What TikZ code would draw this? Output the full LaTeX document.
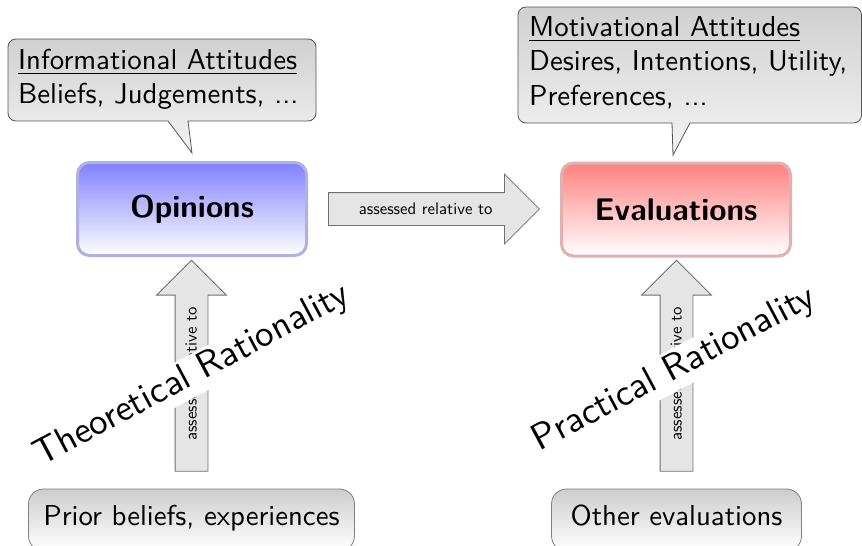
\documentclass[tikz,border=0pt]{standalone}
\usepackage{fontspec}
\setsansfont{lmsans10-regular.otf}[BoldFont=lmsans10-bold.otf]
\usetikzlibrary{shapes.arrows,calc}
\definecolor{opTop}{RGB}{128,128,255}
\definecolor{opBorder}{RGB}{176,176,226}
\definecolor{evTop}{RGB}{255,128,128}
\definecolor{evBorder}{RGB}{226,176,176}
\definecolor{callBorder}{RGB}{85,85,85}
\definecolor{callTop}{RGB}{208,208,208}
\definecolor{callBottom}{RGB}{244,244,244}
\definecolor{srcBorder}{RGB}{128,128,128}
\definecolor{srcTop}{RGB}{205,205,205}
\definecolor{arrFill}{RGB}{229,229,229}
\definecolor{arrBorder}{RGB}{112,112,112}
\newcommand\ulx[1]{\leavevmode\setbox0=\hbox{#1}\rlap{\rule[-4.7pt]{\wd0}{1.4pt}}\box0}
\begin{document}
\begin{tikzpicture}[x=1pt,y=1pt,
  calloutline/.style={draw=callBorder, line width=0.8pt, top color=callTop, bottom color=callBottom},
  calltext/.style={inner sep=0pt, align=left, font=\fontsize{28.8}{34.56}\selectfont\sffamily},
  mainbox/.style={rounded corners=12pt, line width=3pt, minimum width=229pt, minimum height=93pt,
    font=\fontsize{31.3}{37}\selectfont\sffamily\bfseries},
  opbox/.style={mainbox, draw=opBorder, top color=opTop, bottom color=white},
  evbox/.style={mainbox, draw=evBorder, top color=evTop, bottom color=white},
  srcbox/.style={rounded corners=15pt, draw=srcBorder, line width=0.8pt, top color=srcTop, bottom color=white,
    minimum height=62pt, text height=20pt, text depth=10pt,
    font=\fontsize{28.8}{34.56}\selectfont\sffamily},
  fatarrow/.style={single arrow, draw=arrBorder, fill=arrFill, line width=0.8pt,
    single arrow head extend=18.5pt, single arrow tip angle=90, minimum height=211pt,
    text height=10pt, text depth=0pt, inner ysep=11pt, inner xsep=12pt,
    font=\fontsize{16.8}{20}\selectfont\sffamily},
  ratio/.style={fill=white, rotate=28, font=\fontsize{37}{44}\selectfont\sffamily}
]
\useasboundingbox (0,0) rectangle (862,-546);
\fill[white] (0,0) rectangle (862,-546);

% callout outlines
\draw[calloutline] (16,-39) -- (308,-39) arc[start angle=90,end angle=0,radius=8]
  -- (316,-113) arc[start angle=0,end angle=-90,radius=8]
  -- (188,-121) -- (192,-153) -- (168,-121)
  -- (16,-121) arc[start angle=270,end angle=180,radius=8]
  -- (8,-47) arc[start angle=180,end angle=90,radius=8] -- cycle;
\draw[calloutline] (526,-7) -- (853.5,-7) arc[start angle=90,end angle=0,radius=8]
  -- (861.5,-115) arc[start angle=0,end angle=-90,radius=8]
  -- (690,-123) -- (673,-155) -- (672,-123)
  -- (526,-123) arc[start angle=270,end angle=180,radius=8]
  -- (518,-15) arc[start angle=180,end angle=90,radius=8] -- cycle;

\node[calltext, anchor=west] (infobox) at (18,-79.3)
  {\ulx{Informational Attitudes}\\Beliefs, Judgements, ...};
\node[calltext, anchor=west] (motiv) at (529,-62.8)
  {\ulx{Motivational Attitudes}\\Desires, Intentions, Utility,\\Preferences, ...};

% main boxes
\node[opbox] (opinions) at (192,-209) {Opinions};
\node[evbox] (evaluations) at (676,-209.5) {Evaluations};

% source boxes
\node[srcbox, minimum width=326pt] (prior) at (191.5,-520) {Prior beliefs, experiences};
\node[srcbox, minimum width=250pt] (other) at (676.5,-520) {Other evaluations};

% fat arrows
\node[fatarrow, anchor=tail] (assessH) at ($(opinions.east)+(20,0)$) {assessed relative to};
\node[fatarrow, rotate=90, anchor=tail] (assessL) at ($(prior.north)+(0,17)$) {assessed relative to};
\node[fatarrow, rotate=90, anchor=tail] (assessR) at ($(other.north)+(0,17)$) {assessed relative to};

% rationality labels
\node[ratio] (theo) at (192,-376) {Theoretical Rationality};
\node[ratio] (prac) at (674,-370) {Practical Rationality};
\end{tikzpicture}
\end{document}
